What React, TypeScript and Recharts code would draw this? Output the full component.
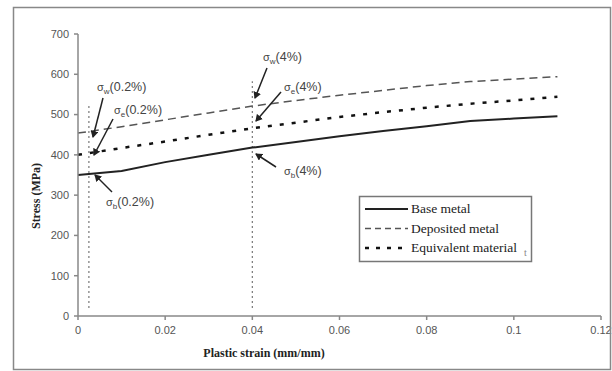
import React from 'react';
import { LineChart, Line, XAxis, YAxis, ReferenceLine } from 'recharts';

const strain = [0, 0.01, 0.02, 0.03, 0.04, 0.05, 0.06, 0.07, 0.08, 0.09, 0.1, 0.11];
const baseMetal = [350, 360, 382, 400, 418, 432, 446, 459, 471, 484, 490, 496];
const depositedMetal = [454, 470, 487, 504, 521, 535, 548, 560, 572, 582, 588, 594];
const equivalentMaterial = [400, 417, 433, 450, 466, 480, 494, 506, 517, 527, 535, 544];
const xTicks = [0, 0.02, 0.04, 0.06, 0.08, 0.1, 0.12];
const yTicks = [0, 100, 200, 300, 400, 500, 600, 700];
const markerStrains = [0.0025, 0.04];
const markerTops = [529, 583];

const data = strain.map((s, i) => ({
  strain: s,
  base: baseMetal[i],
  deposited: depositedMetal[i],
  equivalent: equivalentMaterial[i],
}));

const annotations = [
  { sub: 'w', label: '(0.2%)', x: 97, y: 91, from: [103, 98], to: [93, 137] },
  { sub: 'e', label: '(0.2%)', x: 114, y: 114, from: [113, 119], to: [94, 155] },
  { sub: 'b', label: '(0.2%)', x: 106, y: 206, from: [112, 192], to: [95, 175] },
  { sub: 'w', label: '(4%)', x: 263, y: 61, from: [267, 68], to: [255, 98] },
  { sub: 'e', label: '(4%)', x: 284, y: 91, from: [281, 92], to: [256, 121] },
  { sub: 'b', label: '(4%)', x: 284, y: 175, from: [276, 167], to: [256, 154] },
];

const legendItems = [
  { name: 'Base metal', stroke: '#222', width: 2, dash: undefined as string | undefined },
  { name: 'Deposited metal', stroke: '#555', width: 1.5, dash: '6 4' },
  { name: 'Equivalent material', stroke: '#111', width: 2.5, dash: '4 7' },
];

const sans = '"Liberation Sans", Arial, sans-serif';
const serif = '"Liberation Serif", "Times New Roman", serif';

export default function App() {
  return (
    <div style={{ position: 'absolute', left: 0, top: 0, width: 612, height: 371, background: '#fff' }}>
      <LineChart width={612} height={371} data={data} margin={{ top: 34, right: 11, bottom: 25, left: 18 }}>
        <XAxis
          xAxisId="main"
          dataKey="strain"
          type="number"
          domain={[0, 0.12]}
          ticks={xTicks}
          tickFormatter={(v: number) => String(v)}
          height={30}
          stroke="#888"
          strokeWidth={1.5}
          tickSize={4}
          tickMargin={6}
          tick={{ fill: '#555', fontSize: 11, fontFamily: sans }}
        />
        <XAxis xAxisId="top" orientation="top" type="number" domain={[0, 0.12]} height={0} tick={false} tickLine={false} stroke="#888" strokeWidth={1.5} />
        <YAxis
          yAxisId="main"
          type="number"
          domain={[0, 700]}
          ticks={yTicks}
          width={60}
          stroke="#888"
          strokeWidth={1.5}
          tickSize={4}
          tickMargin={5}
          tick={{ fill: '#555', fontSize: 11, fontFamily: sans }}
        />
        <YAxis yAxisId="right" orientation="right" type="number" domain={[0, 700]} width={0} tick={false} tickLine={false} stroke="#888" strokeWidth={1.5} />
        {markerStrains.map((s, i) => (
          <ReferenceLine
            key={i}
            xAxisId="main"
            yAxisId="main"
            segment={[{ x: s, y: 20 }, { x: s, y: markerTops[i] }]}
            stroke="#777"
            strokeWidth={1.2}
            strokeDasharray="2 3"
          />
        ))}
        <Line xAxisId="main" yAxisId="main" type="linear" dataKey="deposited" stroke="#555" strokeWidth={1.5} strokeDasharray="8 5" dot={false} isAnimationActive={false} />
        <Line xAxisId="main" yAxisId="main" type="linear" dataKey="equivalent" stroke="#111" strokeWidth={2.5} strokeDasharray="4 8" dot={false} isAnimationActive={false} />
        <Line xAxisId="main" yAxisId="main" type="linear" dataKey="base" stroke="#222" strokeWidth={2} dot={false} isAnimationActive={false} />
      </LineChart>
      <svg width={612} height={371} style={{ position: 'absolute', left: 0, top: 0, pointerEvents: 'none' }}>
        <defs>
          <marker id="ah" markerWidth="8" markerHeight="8" refX="6" refY="4" orient="auto" markerUnits="userSpaceOnUse">
            <path d="M0,0 L7,4 L0,8 Z" fill="#222" />
          </marker>
        </defs>
        <rect x={13.5} y={7.5} width={597} height={362} fill="none" stroke="#888" strokeWidth={1.5} />
        {annotations.map((a, i) => (
          <g key={i}>
            <line x1={a.from[0]} y1={a.from[1]} x2={a.to[0]} y2={a.to[1]} stroke="#222" strokeWidth={1.5} markerEnd="url(#ah)" />
            <text x={a.x} y={a.y} fontSize={12.5} fill="#444" fontFamily={sans}>
              <tspan fontSize={11}>σ</tspan>
              <tspan fontSize={8} dy={3}>{a.sub}</tspan>
              <tspan fontSize={12.5} dy={-3}>{a.label}</tspan>
            </text>
          </g>
        ))}
        <text x={264} y={357} textAnchor="middle" fontSize={12} fontWeight="bold" fontFamily={serif} fill="#222">
          Plastic strain (mm/mm)
        </text>
        <text x={40} y={196} textAnchor="middle" fontSize={12} fontWeight="bold" fontFamily={serif} fill="#222" transform="rotate(-90 40 196)">
          Stress (MPa)
        </text>
        <rect x={359.5} y={196.5} width={172} height={65} fill="#fff" stroke="#777" strokeWidth={1.5} />
        {legendItems.map((it, i) => {
          const y = 209 + i * 19.5;
          return (
            <g key={it.name}>
              <line x1={365} y1={y} x2={408} y2={y} stroke={it.stroke} strokeWidth={it.width} strokeDasharray={it.dash} />
              <text x={411} y={y + 4} fontSize={13.5} fontFamily={serif} fill="#222">{it.name}</text>
            </g>
          );
        })}
        <text x={524} y={256} fontSize={10} fontFamily={serif} fill="#888">t</text>
      </svg>
    </div>
  );
}
